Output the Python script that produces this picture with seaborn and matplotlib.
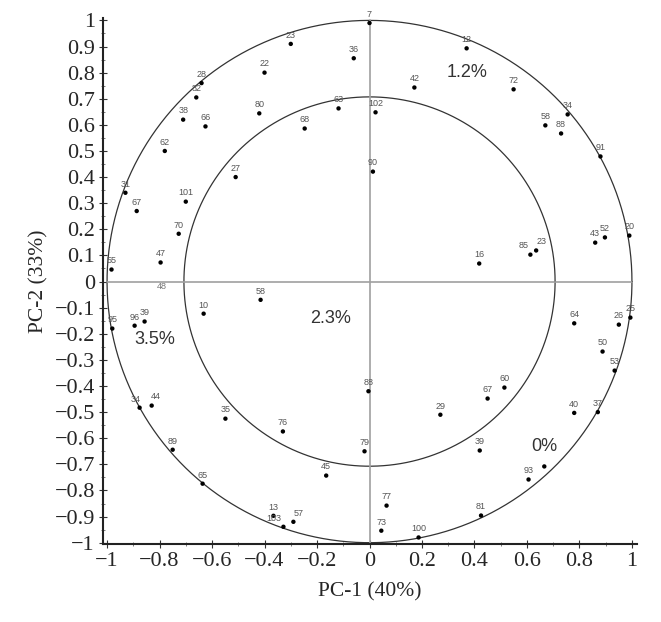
import numpy as np
import pandas as pd
import seaborn as sns
import matplotlib
matplotlib.use('Agg')
import matplotlib.pyplot as plt
from matplotlib.ticker import MultipleLocator

# loadings (label, PC-1, PC-2)
labels = ['7', '23', '36', '22', '28', '82', '38', '66', '80', '63', '68', '62',
          '27', '31', '101', '67', '70', '47', '55', '10', '58', '95', '96', '39',
          '34', '44', '35', '76', '89', '65', '45', '13', '103', '57',
          '88', '67', '60', '29', '79', '39', '40', '37', '', '93', '77', '73', '81', '100',
          '16', '85', '23', '43', '52', '20', '64', '26', '25', '50', '53',
          '12', '42', '72', '102', '90', '58', '88', '34', '91']
pc1 = [0.0, -0.30, -0.06, -0.40, -0.64, -0.66, -0.71, -0.625, -0.42, -0.118, -0.247, -0.78,
       -0.51, -0.93, -0.70, -0.887, -0.727, -0.796, -0.983, -0.632, -0.415, -0.98, -0.895, -0.857,
       -0.876, -0.83, -0.549, -0.33, -0.75, -0.636, -0.165, -0.366, -0.328, -0.29,
       -0.004, 0.45, 0.514, 0.27, -0.019, 0.42, 0.78, 0.87, 0.666, 0.606, 0.065, 0.045, 0.425, 0.187,
       0.418, 0.613, 0.635, 0.86, 0.897, 0.99, 0.78, 0.95, 0.994, 0.888, 0.934,
       0.37, 0.171, 0.549, 0.023, 0.013, 0.67, 0.73, 0.755, 0.88]
pc2 = [0.99, 0.91, 0.855, 0.80, 0.76, 0.705, 0.62, 0.594, 0.644, 0.663, 0.586, 0.50,
       0.40, 0.34, 0.306, 0.27, 0.183, 0.073, 0.046, -0.123, -0.07, -0.18, -0.169, -0.153,
       -0.483, -0.475, -0.525, -0.574, -0.644, -0.774, -0.743, -0.897, -0.939, -0.92,
       -0.42, -0.448, -0.406, -0.51, -0.65, -0.647, -0.503, -0.50, -0.708, -0.758, -0.858, -0.954, -0.896, -0.98,
       0.069, 0.103, 0.119, 0.149, 0.169, 0.176, -0.16, -0.165, -0.138, -0.268, -0.341,
       0.893, 0.743, 0.736, 0.648, 0.421, 0.598, 0.567, 0.64, 0.479]

# label with no visible marker
lone_label = ('48', -0.79, -0.02)

# variance labels of the regions
region_text = ['1.2%', '2.3%', '3.5%', '0%']
region_x = [0.37, -0.15, -0.82, 0.665]
region_y = [0.80, -0.14, -0.22, -0.63]

df = pd.DataFrame({'label': labels, 'pc1': pc1, 'pc2': pc2})

# sideways nudges (points) for crowded labels, by row
nudge = {24: -3, 25: 3, 32: -7, 33: 4, 49: -5, 50: 4}

sns.set_style('white')

fig = plt.figure(figsize=(6.61, 6.22), dpi=100)
ax = fig.add_axes([0.156, 0.1254, 0.808, 0.846])

# circles and centre lines
theta = np.linspace(0, 2 * np.pi, 400)
for r in [1.0, np.sqrt(0.5)]:
    ax.plot(r * np.cos(theta), r * np.sin(theta), color='#333333', lw=0.9, zorder=1)
ax.plot([-1, 1], [0, 0], color='#a0a0a0', lw=1.2, zorder=1)
ax.plot([0, 0], [-1, 1], color='#a0a0a0', lw=1.2, zorder=1)

sns.scatterplot(data=df, x='pc1', y='pc2', ax=ax, color='black', s=10,
                edgecolor='none', zorder=3)

for i, row in df.iterrows():
    if row['label']:
        ax.annotate(row['label'], (row['pc1'], row['pc2']), xytext=(nudge.get(i, 0), 3),
                    textcoords='offset points', ha='center', va='bottom',
                    fontsize=6.5, color='#555555', family='Liberation Sans')
ax.text(lone_label[1], lone_label[2], lone_label[0], ha='center', va='center',
        fontsize=6.5, color='#777777', family='Liberation Sans')

for t, x, y in zip(region_text, region_x, region_y):
    ax.text(x, y, t, ha='center', va='center', fontsize=13, color='#333333',
            family='Liberation Sans')

ax.set_xlim(-1.015, 1.02)
ax.set_ylim(-1.005, 1.01)
ax.xaxis.set_major_locator(MultipleLocator(0.2))
ax.xaxis.set_minor_locator(MultipleLocator(0.1))
ax.yaxis.set_major_locator(MultipleLocator(0.1))
ax.yaxis.set_minor_locator(MultipleLocator(0.05))


def fmt(v, pos):
    if abs(v) < 1e-9:
        return '0'
    return f'{v:.1f}'.rstrip('0').rstrip('.').replace('-', '\u2212')


ax.xaxis.set_major_formatter(fmt)
ax.yaxis.set_major_formatter(fmt)
ax.tick_params(which='major', direction='inout', length=6, width=0.8, color='#333333',
               labelsize=16, left=True, bottom=True, pad=3)
ax.tick_params(which='minor', direction='inout', length=3, width=0.6, color='#666666',
               left=True, bottom=True)
for lab in ax.get_xticklabels() + ax.get_yticklabels():
    lab.set_family('Liberation Serif')

sns.despine(ax=ax)
for side in ['left', 'bottom']:
    ax.spines[side].set_linewidth(1.5)
    ax.spines[side].set_color('#222222')

ax.set_xlabel('PC-1 (40%)', fontsize=15.5, family='Liberation Serif', labelpad=8)
ax.set_ylabel('PC-2 (33%)', fontsize=15.5, family='Liberation Serif', labelpad=4)

fig.savefig('out.png', dpi=100)
